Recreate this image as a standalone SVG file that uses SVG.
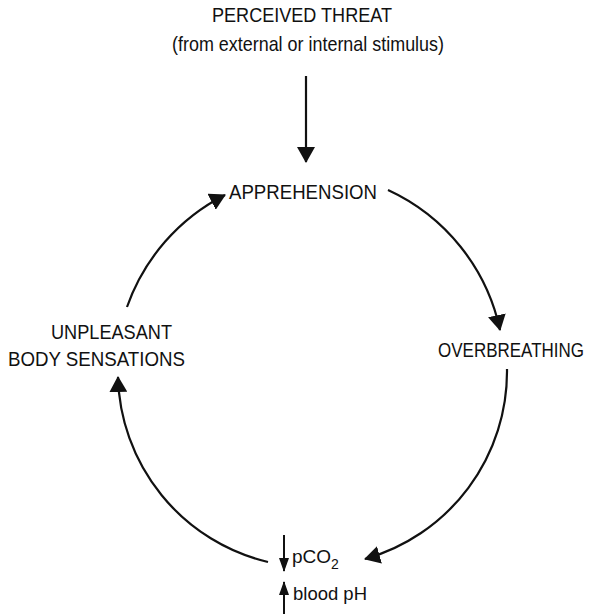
<svg xmlns="http://www.w3.org/2000/svg" width="595" height="614" viewBox="0 0 595 614">
  <style>
    text { font-family: "Liberation Sans", "DejaVu Sans", sans-serif; fill: #111; font-size: 21px; }
    .sm { font-size: 19px; }
    .con { fill: none; stroke: #111; stroke-width: 2.2; }
  </style>
  <defs>
    <marker id="ah" viewBox="0 0 16 18" refX="15" refY="9" markerWidth="16" markerHeight="18" markerUnits="userSpaceOnUse" orient="auto">
      <path d="M0,0 L16,9 L0,18 Z" fill="#111"/>
    </marker>
    <marker id="ahs" viewBox="0 0 14 10" refX="13" refY="5" markerWidth="14" markerHeight="10" markerUnits="userSpaceOnUse" orient="auto">
      <path d="M0,0 L14,5 L0,10 Z" fill="#111"/>
    </marker>
  </defs>
  <rect width="595" height="614" fill="#fff"/>

  <g id="threat">
    <text x="212" y="22" textLength="180" lengthAdjust="spacingAndGlyphs">PERCEIVED THREAT</text>
    <text x="172" y="51" textLength="272" lengthAdjust="spacingAndGlyphs">(from external or internal stimulus)</text>
  </g>
  <g id="apprehension">
    <text x="229" y="199" textLength="148" lengthAdjust="spacingAndGlyphs">APPREHENSION</text>
  </g>
  <g id="overbreathing">
    <text transform="translate(438,357) scale(1,1.2)" style="font-size:17px">OVERBREATHING</text>
  </g>
  <g id="sensations">
    <text x="51" y="339" textLength="121" lengthAdjust="spacingAndGlyphs">UNPLEASANT</text>
    <text x="8" y="366" textLength="177" lengthAdjust="spacingAndGlyphs">BODY SENSATIONS</text>
  </g>
  <g id="pco2">
    <text x="292" y="563" class="sm">pCO<tspan dy="6" style="font-size:14px">2</tspan></text>
    <line class="con" x1="284" y1="535" x2="284" y2="571" marker-end="url(#ahs)" style="stroke-width:2"/>
    <text x="293" y="600" class="sm" textLength="74" lengthAdjust="spacingAndGlyphs">blood pH</text>
    <line class="con" x1="284" y1="614" x2="284" y2="582" marker-end="url(#ahs)" style="stroke-width:2"/>
  </g>

  <g id="connectors">
    <line class="con" x1="306" y1="76" x2="306" y2="162" marker-end="url(#ah)"/>
    <path class="con" d="M127,307 A200,200 0 0 1 225,195" marker-end="url(#ah)"/>
    <path class="con" d="M388,190 A200,200 0 0 1 500,330" marker-end="url(#ah)"/>
    <path class="con" d="M507,369 A195,195 0 0 1 365,559" marker-end="url(#ah)"/>
    <path class="con" d="M268,562 A195,195 0 0 1 118,377" marker-end="url(#ah)"/>
  </g>
</svg>
